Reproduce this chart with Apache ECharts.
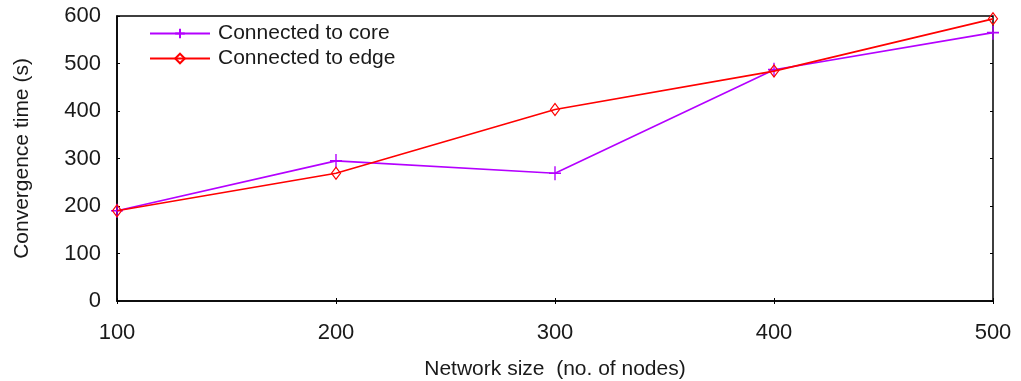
<!DOCTYPE html>
<html>
<head>
<meta charset="utf-8">
<style>
  html, body { margin: 0; padding: 0; background: #fff; }
  #chart { width: 1021px; height: 381px; }
</style>
<script src="https://cdn.jsdelivr.net/npm/echarts@6/dist/echarts.min.js"></script>
</head>
<body>
<div id="chart"></div>
<script>
// Network sizes (number of nodes)
const networkSizes = [100, 200, 300, 400, 500];
// Convergence time in seconds
const coreTimes = [190, 295, 269, 487, 565];
const edgeTimes = [190, 269, 403, 484, 594];
const yTicks = [0, 100, 200, 300, 400, 500, 600];

const seriesNames = ['Connected to core', 'Connected to edge'];
const purple = '#b400ff';
const red = '#ff0000';
const font = '"Liberation Sans", Arial, sans-serif';
const textColor = '#1a1a1a';

const chart = echarts.init(document.getElementById('chart'), null, { renderer: 'canvas' });

const pairs = (xs, ys) => xs.map((x, i) => [x, ys[i]]);

const plusPath = 'path://M5,0L5,10M0,5L10,5';
const diamondPath = 'path://M4,0L8,5L4,10L0,5Z';

const tickCommon = { show: true, inside: true, length: 3, lineStyle: { color: '#000', width: 1 } };

chart.setOption({
  animation: false,
  backgroundColor: '#fff',
  grid: {
    left: 117, right: 28, top: 16, bottom: 80,
    outerBoundsMode: 'none',
    show: true, borderColor: '#000', borderWidth: 1.5, backgroundColor: 'transparent'
  },
  legend: {
    orient: 'vertical',
    left: 144, top: 18,
    itemWidth: 60, itemHeight: 12, itemGap: 4,
    textStyle: { fontFamily: font, fontSize: 21, color: textColor, padding: [0, 0, 0, 3] },
    data: seriesNames
  },
  xAxis: [{
    type: 'value',
    min: 100, max: 500, interval: 100,
    name: 'Network size  (no. of nodes)',
    nameLocation: 'middle', nameGap: 58,
    nameTextStyle: { fontFamily: font, fontSize: 21, color: textColor },
    axisLine: { show: true, lineStyle: { color: '#000', width: 1.5 } },
    axisTick: tickCommon,
    axisLabel: { fontFamily: font, fontSize: 22, color: textColor, margin: 21 },
    splitLine: { show: false }
  }, {
    type: 'value', position: 'top',
    min: 100, max: 500, interval: 100,
    axisLine: { show: false },
    axisTick: tickCommon,
    axisLabel: { show: false },
    splitLine: { show: false }
  }],
  yAxis: [{
    type: 'value',
    min: yTicks[0], max: yTicks[yTicks.length - 1], interval: 100,
    name: 'Convergence time (s)',
    nameLocation: 'middle', nameGap: 84, nameRotate: 90,
    nameTextStyle: { fontFamily: font, fontSize: 21, color: textColor },
    axisLine: { show: true, lineStyle: { color: '#000', width: 1.5 } },
    axisTick: tickCommon,
    axisLabel: { fontFamily: font, fontSize: 22, color: textColor, margin: 16 },
    splitLine: { show: false }
  }, {
    type: 'value', position: 'right',
    min: yTicks[0], max: yTicks[yTicks.length - 1], interval: 100,
    axisLine: { show: false },
    axisTick: tickCommon,
    axisLabel: { show: false },
    splitLine: { show: false }
  }],
  series: [{
    name: seriesNames[0],
    type: 'line',
    data: pairs(networkSizes, coreTimes),
    symbol: plusPath,
    symbolSize: [12, 14],
    showAllSymbol: true,
    lineStyle: { color: purple, width: 1.6 },
    itemStyle: { color: 'rgba(0,0,0,0)', borderColor: purple, borderWidth: 1.5 },
    emphasis: { disabled: true },
    z: 3
  }, {
    name: seriesNames[1],
    type: 'line',
    data: pairs(networkSizes, edgeTimes),
    symbol: diamondPath,
    symbolSize: [9, 12],
    showAllSymbol: true,
    lineStyle: { color: red, width: 1.6 },
    itemStyle: { color: 'rgba(0,0,0,0)', borderColor: red, borderWidth: 1.2 },
    emphasis: { disabled: true },
    z: 4
  }]
});
</script>
</body>
</html>
